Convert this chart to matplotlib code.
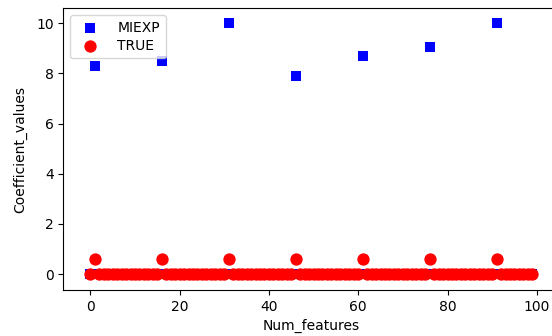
import numpy as np
import matplotlib.pyplot as plt

num_features = np.arange(100)
# nonzero coefficients sit at these feature indices
nz_idx = [1, 16, 31, 46, 61, 76, 91]
miexp_nz = [8.3, 8.5, 10.0, 7.9, 8.7, 9.05, 10.0]
true_nz = [0.6, 0.6, 0.6, 0.6, 0.6, 0.6, 0.6]

miexp = np.zeros(100)
miexp[nz_idx] = miexp_nz
true = np.zeros(100)
true[nz_idx] = true_nz

fig = plt.figure(figsize=(5.52, 3.36), dpi=100)
ax = fig.add_axes([0.1147, 0.137, 0.8986, 0.839])

ax.scatter(num_features, miexp, c='blue', marker='s', s=50, linewidths=0, label='MIEXP')
ax.scatter(num_features, true, c='red', marker='o', s=62, label='TRUE')

ax.set_xlim(-6.05, 105.05)
ax.set_ylim(-0.63, 10.6)
ax.set_xlabel('Num_features')
ax.set_ylabel('Coefficient_values', labelpad=6)
ax.legend(loc='upper left', labelspacing=0.3, handletextpad=1.0)

plt.savefig('out.png', dpi=100)
